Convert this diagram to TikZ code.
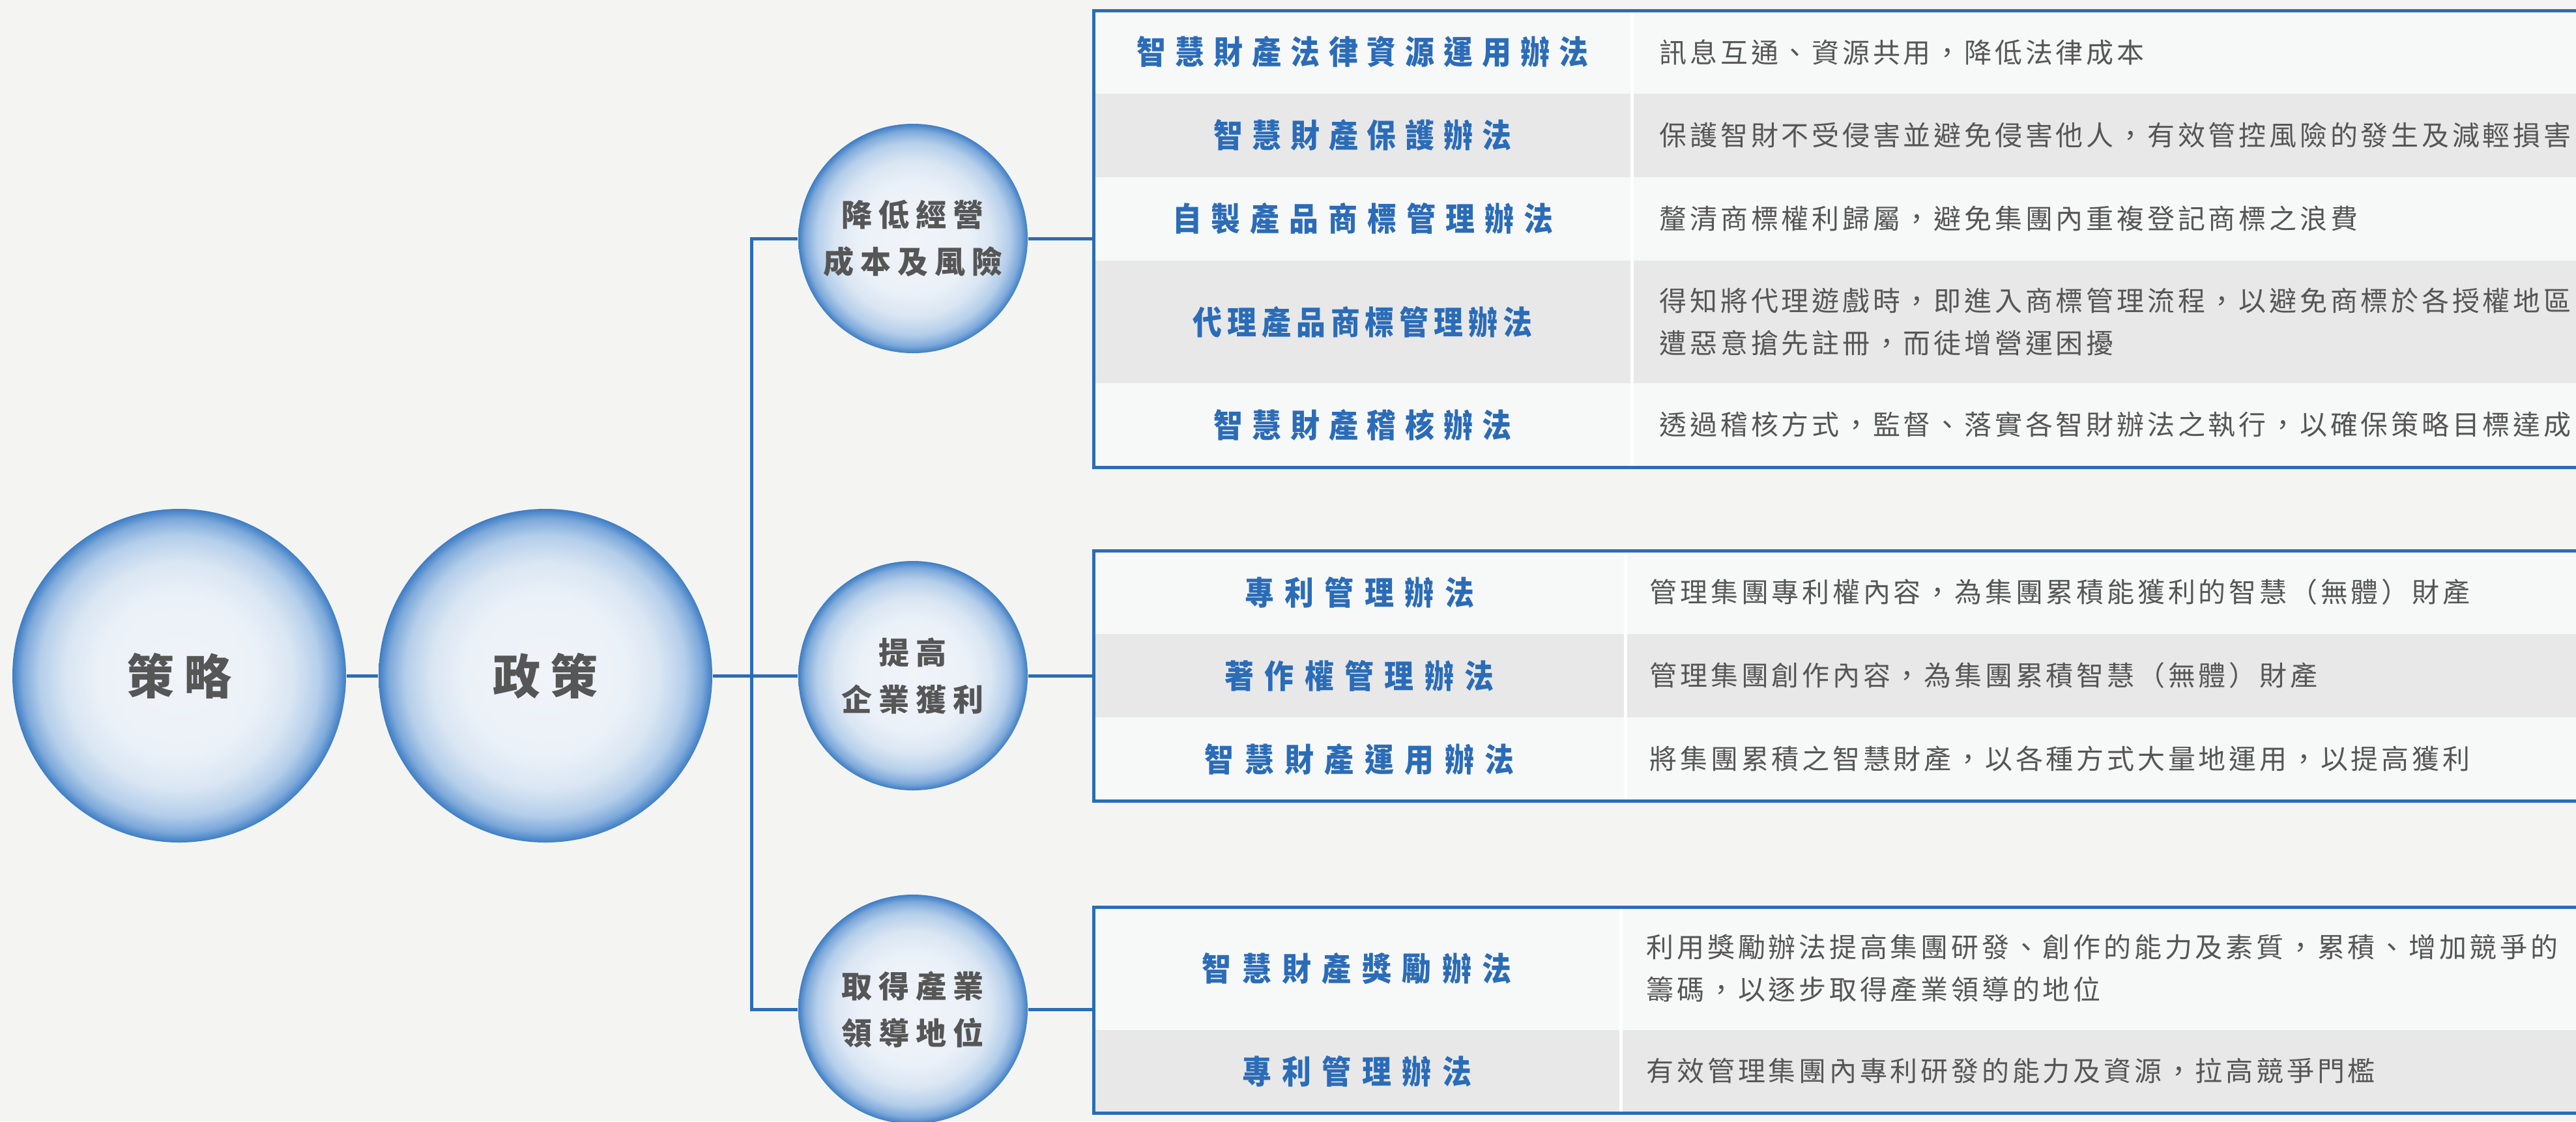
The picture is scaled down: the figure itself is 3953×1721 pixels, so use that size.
\documentclass[tikz,border=0pt]{standalone}
\usepackage{fontspec}
\newfontfamily\cjk{Noto Sans CJK TC}
\newfontfamily\cjklab{Noto Sans CJK TC}[FakeStretch=0.9]
\usetikzlibrary{fit}
\definecolor{bg}{HTML}{F4F5F2}
\definecolor{tblue}{HTML}{2B6CB8}
\definecolor{tgray}{HTML}{565656}
\definecolor{rowA}{HTML}{F7F8F8}
\definecolor{rowB}{HTML}{E8E8E8}
\definecolor{shA}{HTML}{F1F4F9}
\definecolor{shB}{HTML}{EBF1F8}
\definecolor{shC}{HTML}{DAE6F3}
\definecolor{shD}{HTML}{B4CEEA}
\definecolor{shE}{HTML}{7DA9DA}
\definecolor{shF}{HTML}{3D7DC5}
\pgfdeclareradialshading{bubble}{\pgfpointorigin}{color(0bp)=(shA); color(12bp)=(shB); color(17bp)=(shC); color(21bp)=(shD); color(23.5bp)=(shE); color(25bp)=(shF); color(50bp)=(shF)}
% letter tracking: \tracked{amount}{text}
\newcommand\tracked[2]{\def\trackamt{#1}\trackA#2\relax}
\def\trackA#1{#1\trackB}
\def\trackB#1{\ifx\relax#1\else\kern\trackamt\relax#1\expandafter\trackB\fi}
\tikzset{
  conn/.style={draw=tblue, line width=0.5mm},
  tborder/.style={draw=tblue, line width=0.5mm},
  bigball/.style={circle, shading=bubble, minimum size=51.2mm, inner sep=0pt,
    font=\cjk\bfseries\fontsize{20.8}{24}\selectfont, text=tgray},
  ball/.style={circle, shading=bubble, minimum size=35.2mm, inner sep=0pt, align=center,
    font=\cjk\bfseries\fontsize{13.4}{20.5}\selectfont, text=tgray},
  lab/.style={inner sep=0pt, font=\cjklab\bfseries\fontsize{14.2}{17}\selectfont, text=tblue},
  desc/.style={inner sep=0pt, anchor=west, align=left, font=\cjk\fontsize{11.95}{18.5}\selectfont, text=tgray},
  frame/.style={inner sep=0pt}
}
\newcommand\dt[1]{\tracked{0.114em}{#1}}
\begin{document}
\begin{tikzpicture}[x=0.1mm, y=-0.1mm]
\useasboundingbox (0,0) rectangle (3953,1721);
\clip (0,0) rectangle (3953,1721);
\fill[bg] (0,0) rectangle (3953,1721);

% ---------- table 1 ----------
\fill[white] (1678,16) rectangle (3953,717);
\foreach \ya/\yb/\c in {16/144/rowA,144/272/rowB,272/400/rowA,400/588/rowB,588/717/rowA}{
  \fill[\c] (1678,\ya) rectangle (2502,\yb);
  \fill[\c] (2507,\ya) rectangle (3953,\yb);
}
\draw[tborder] (3970,16) -- (1678,16) -- (1678,717) -- (3970,717);
\node[frame, fit={(1678,16) (3953,717)}] (t1) {};

% ---------- table 2 ----------
\fill[white] (1678,845) rectangle (3953,1229);
\foreach \ya/\yb/\c in {845/973/rowA,973/1101/rowB,1101/1229/rowA}{
  \fill[\c] (1678,\ya) rectangle (2492,\yb);
  \fill[\c] (2497,\ya) rectangle (3953,\yb);
}
\draw[tborder] (3970,845) -- (1678,845) -- (1678,1229) -- (3970,1229);
\node[frame, fit={(1678,845) (3953,1229)}] (t2) {};

% ---------- table 3 ----------
\fill[white] (1678,1392) rectangle (3953,1708);
\foreach \ya/\yb/\c in {1392/1581/rowA,1581/1708/rowB}{
  \fill[\c] (1678,\ya) rectangle (2485,\yb);
  \fill[\c] (2490,\ya) rectangle (3953,\yb);
}
\draw[tborder] (3970,1392) -- (1678,1392) -- (1678,1708) -- (3970,1708);
\node[frame, fit={(1678,1392) (3953,1708)}] (t3) {};

% ---------- circles ----------
\node[bigball] (s1) at (275,1037) {\tracked{0.2em}{策略}};
\node[bigball] (s2) at (837,1037) {\tracked{0.2em}{政策}};
\node[ball] (c1) at (1401,366) {\tracked{0.21em}{降低經營}\\\tracked{0.21em}{成本及風險}};
\node[ball] (c2) at (1401,1037) {\tracked{0.21em}{提高}\\\tracked{0.21em}{企業獲利}};
\node[ball] (c3) at (1401,1549) {\tracked{0.21em}{取得產業}\\\tracked{0.21em}{領導地位}};

% ---------- connectors ----------
\coordinate (bus) at (1153,1037);
\draw[conn] (s1) -- (s2);
\draw[conn] (s2) -- (c2);
\draw[conn] (c1.west) -| (bus) |- (c3.west);
\draw[conn] (c1.east) -- (c1.east -| t1.west);
\draw[conn] (c2.east) -- (t2.west);
\draw[conn] (c3.east) -- (c3.east -| t3.west);

% ---------- table 1 texts ----------
\node[lab] (l11) at (2091,80) {\tracked{0.28em}{智慧財產法律資源運用辦法}};
\node[lab] (l12) at (2091,208) {\tracked{0.28em}{智慧財產保護辦法}};
\node[lab] (l13) at (2091,336) {\tracked{0.3em}{自製產品商標管理辦法}};
\node[lab] (l14) at (2091,494) {\tracked{0.16em}{代理產品商標管理辦法}};
\node[lab] (l15) at (2091,652) {\tracked{0.28em}{智慧財產稽核辦法}};
\node[desc] (d11) at (2546,80) {\dt{訊息互通、資源共用，降低法律成本}};
\node[desc] (d12) at (2546,208) {\dt{保護智財不受侵害並避免侵害他人，有效管控風險的發生及減輕損害}};
\node[desc] (d13) at (2546,336) {\dt{釐清商標權利歸屬，避免集團內重複登記商標之浪費}};
\node[desc] (d14) at (2546,494) {\dt{得知將代理遊戲時，即進入商標管理流程，以避免商標於各授權地區}\\\dt{遭惡意搶先註冊，而徒增營運困擾}};
\node[desc] (d15) at (2546,652) {\dt{透過稽核方式，監督、落實各智財辦法之執行，以確保策略目標達成}};

% ---------- table 2 texts ----------
\node[lab] (l21) at (2086,909) {\tracked{0.33em}{專利管理辦法}};
\node[lab] (l22) at (2086,1037) {\tracked{0.33em}{著作權管理辦法}};
\node[lab] (l23) at (2086,1165) {\tracked{0.33em}{智慧財產運用辦法}};
\node[desc] (d21) at (2531,909) {\dt{管理集團專利權內容，為集團累積能獲利的智慧（無體）財產}};
\node[desc] (d22) at (2531,1037) {\dt{管理集團創作內容，為集團累積智慧（無體）財產}};
\node[desc] (d23) at (2531,1165) {\dt{將集團累積之智慧財產，以各種方式大量地運用，以提高獲利}};

% ---------- table 3 texts ----------
\node[lab] (l31) at (2082,1486) {\tracked{0.33em}{智慧財產獎勵辦法}};
\node[lab] (l32) at (2082,1644) {\tracked{0.33em}{專利管理辦法}};
\node[desc] (d31) at (2526,1486) {\dt{利用獎勵辦法提高集團研發、創作的能力及素質，累積、增加競爭的}\\\dt{籌碼，以逐步取得產業領導的地位}};
\node[desc] (d32) at (2526,1644) {\dt{有效管理集團內專利研發的能力及資源，拉高競爭門檻}};
\end{tikzpicture}
\end{document}
